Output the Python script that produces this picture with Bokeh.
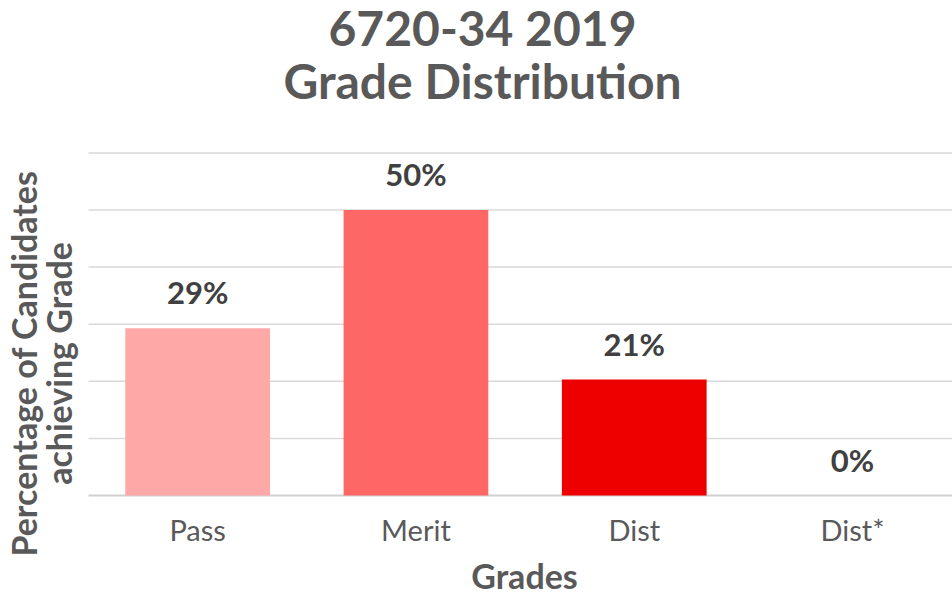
import math
from bokeh.plotting import figure
from bokeh.models import ColumnDataSource, Range1d, Label
from bokeh.core.properties import value
from bokeh.embed import file_html
from bokeh.resources import INLINE

grades = ["Pass", "Merit", "Dist", "Dist*"]
percentages = [0.293, 0.50, 0.203, 0.0]
colors = ["#FFA8A8", "#FF6666", "#EE0000", "#C00000"]
labels = ["29%", "50%", "21%", "0%"]
y_ticks = [0.1, 0.2, 0.3, 0.4, 0.5, 0.6]

FONT = "Lato"
TXT = "#595959"
W, H = 952, 595

# Layout of the plotting area inside the canvas (pixels)
LEFT, BASE = 88, 495          # left edge of category area, y pixel of 0 %
BAND = 218.3                  # pixels per category
UNIT = 571.0                  # pixels per 100 %

xs = [i + 0.5 for i in range(len(grades))]
src = ColumnDataSource(dict(x=xs, top=percentages, color=colors, label=labels,
                            grade=grades, zero=[0.0] * len(grades)))

x_range = Range1d(-LEFT / BAND, (W - LEFT) / BAND)
y_range = Range1d(-(H - BASE) / UNIT, BASE / UNIT)

p = figure(width=W, height=H, output_backend="svg", toolbar_location=None,
           x_range=x_range, y_range=y_range,
           min_border=0, min_border_left=0, min_border_right=0,
           min_border_top=0, min_border_bottom=0)
p.outline_line_color = None
p.axis.visible = False
p.grid.visible = False
p.background_fill_color = "white"
p.border_fill_color = "white"

# horizontal grid lines
p.segment(x0=0, x1=x_range.end, y0=y_ticks, y1=y_ticks,
          line_color="#D9D9D9", line_width=1.5)
# category axis line
p.segment(x0=[0], x1=[x_range.end], y0=[0], y1=[0],
          line_color="#D0D0D0", line_width=2)

p.vbar(x="x", top="top", width=0.663, color="color", source=src, line_color=None)

# value labels
p.text(x="x", y="top", text="label", source=src, y_offset=-36,
       text_align="center", text_baseline="alphabetic",
       text_font=value(FONT), text_font_style="bold", text_font_size="31px",
       text_color="#404040")

# category tick labels
p.text(x="x", y="zero", text="grade", source=src, y_offset=34,
       text_align="center", text_baseline="alphabetic",
       text_font=value(FONT), text_font_size="29px", text_color=TXT)

# axis title
p.add_layout(Label(x=524, y=H - 575, x_units="screen", y_units="screen",
                   text="Grades", text_align="center", text_baseline="alphabetic",
                   text_font=FONT, text_font_style="bold", text_font_size="34px",
                   text_color=TXT))

# chart title (two lines)
for txt, y in [("6720-34 2019", 27), ("Grade Distribution", 80)]:
    p.add_layout(Label(x=482, y=H - y, x_units="screen", y_units="screen", text=txt,
                       text_align="center", text_baseline="alphabetic",
                       text_font=FONT, text_font_style="bold",
                       text_font_size="48px", text_color=TXT))

# y axis title, two lines rotated
for txt, x in [("Percentage of Candidates", 23), ("achieving Grade", 58)]:
    p.add_layout(Label(x=x, y=H - 363, x_units="screen", y_units="screen", text=txt,
                       angle=math.pi / 2, text_align="center", text_baseline="alphabetic",
                       text_font=FONT, text_font_style="bold",
                       text_font_size="34px", text_color=TXT))

open("out.html", "w").write(file_html(p, INLINE))
